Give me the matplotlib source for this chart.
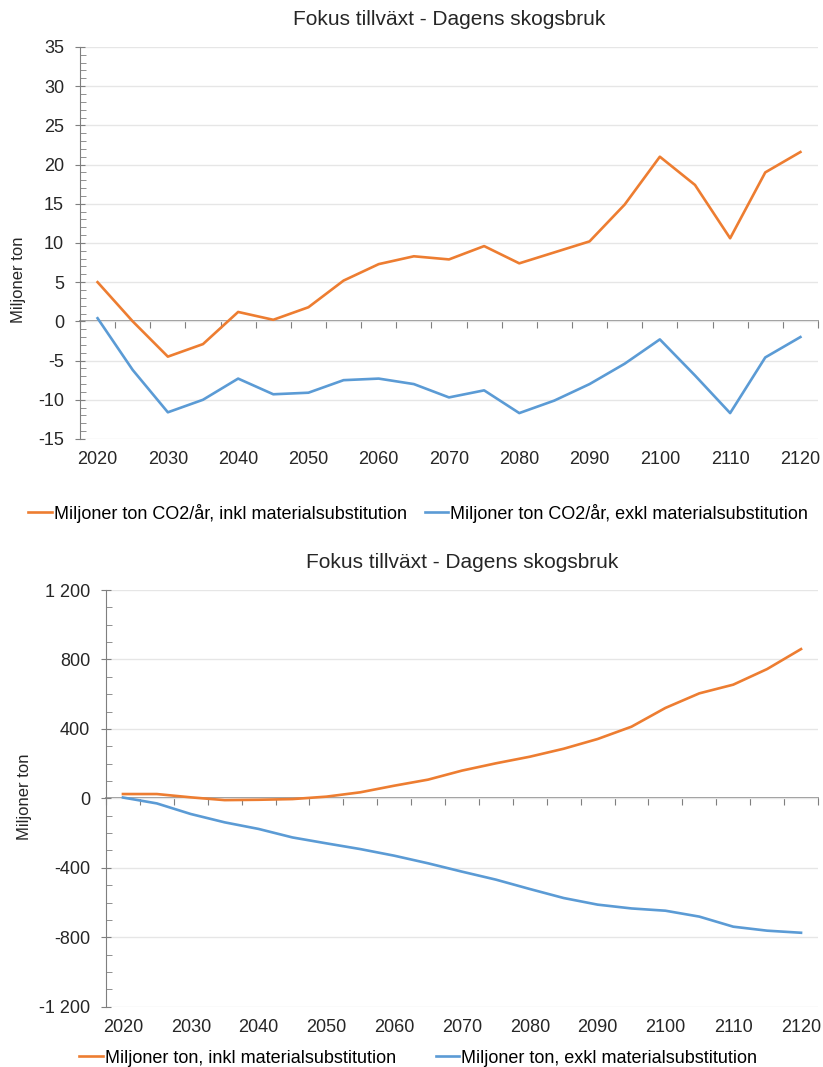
import numpy as np
import matplotlib.pyplot as plt
from matplotlib.ticker import FixedLocator, MultipleLocator, FuncFormatter, NullFormatter

plt.rcParams['font.family'] = ['Liberation Sans', 'DejaVu Sans']
plt.rcParams['axes.unicode_minus'] = False

# data - arlig (5-arssteg)
years = list(range(2020, 2121, 5))
co2_inkl = [5.0, 0.0, -4.5, -2.9, 1.2, 0.2, 1.8, 5.2, 7.3, 8.3, 7.9, 9.6, 7.4,
            8.8, 10.2, 14.9, 21.0, 17.4, 10.6, 19.0, 21.6]
co2_exkl = [0.4, -6.2, -11.6, -10.0, -7.3, -9.3, -9.1, -7.5, -7.3, -8.0, -9.7,
            -8.8, -11.7, -10.1, -8.0, -5.4, -2.3, -6.9, -11.7, -4.6, -2.0]

# ackumulerat
ack_inkl = [25, 25, 6, -10, -8, -4, 10, 35, 73, 108, 160, 202, 240, 286, 342,
            413, 521, 605, 655, 745, 860]
ack_exkl = [5, -29, -90, -138, -176, -225, -259, -292, -330, -374, -422, -468,
            -522, -574, -612, -634, -647, -681, -739, -762, -774]

titel = 'Fokus tillväxt - Dagens skogsbruk'
orange = '#ED7D31'
blue = '#5B9BD5'
axcol = '#7f7f7f'

fig = plt.figure(figsize=(8.23, 10.67), dpi=100)
ax1 = fig.add_axes([0.0972, 0.5886, 0.8967, 0.3674])
ax2 = fig.add_axes([0.1288, 0.0565, 0.8651, 0.3905])


def style_axis(ax, ymin, ymax, major, minor, fmt=None):
    n = len(years)
    x = np.arange(n)
    ax.set_xlim(-0.5, n - 0.5)
    ax.set_ylim(ymin, ymax)
    for s in ['top', 'right', 'bottom']:
        ax.spines[s].set_visible(False)
    ax.spines['left'].set_color(axcol)
    ax.yaxis.set_major_locator(MultipleLocator(major))
    ax.yaxis.set_minor_locator(MultipleLocator(minor))
    if fmt:
        ax.yaxis.set_major_formatter(FuncFormatter(fmt))
    ax.tick_params(axis='y', which='major', direction='inout', length=7,
                   color=axcol, labelsize=13, labelcolor='#262626', pad=8)
    ax.tick_params(axis='y', which='minor', direction='in', length=4, color=axcol)
    ax.grid(axis='y', which='major', color='#e6e6e6', linewidth=1)
    ax.set_axisbelow(True)
    # arslabels langst ned
    ax.set_xticks(x[::2])
    ax.set_xticklabels([str(y) for y in years[::2]])
    ax.tick_params(axis='x', length=0, labelsize=13, labelcolor='#262626', pad=9)
    # x-axel vid noll
    loc = (0 - ymin) / (ymax - ymin)
    sec = ax.secondary_xaxis(loc)
    sec.set_alignment('bottom')
    sec.spines['bottom'].set_color(axcol)
    sec.spines['bottom'].set_linewidth(1.2)
    sec.xaxis.set_major_locator(FixedLocator(np.arange(-0.5, n, 1.0)))
    sec.xaxis.set_major_formatter(NullFormatter())
    sec.tick_params(axis='x', direction='out', length=5, color=axcol,
                    labelbottom=False, labeltop=False)
    return x


x = style_axis(ax1, -15, 35, 5, 1)
ax1.plot(x, co2_inkl, color=orange, lw=1.9, solid_joinstyle='round',
         label='Miljoner ton CO2/år, inkl materialsubstitution')
ax1.plot(x, co2_exkl, color=blue, lw=1.9, solid_joinstyle='round',
         label='Miljoner ton CO2/år, exkl materialsubstitution')
ax1.set_title(titel, fontsize=15, color='#262626', pad=16)
fig.text(0.022, 0.738, 'Miljoner ton', rotation=90, fontsize=12,
         ha='center', va='center', color='#262626')
fig.legend(*ax1.get_legend_handles_labels(), loc='center', ncol=2,
           bbox_to_anchor=(0.508, 0.519), frameon=False, fontsize=13,
           handlelength=1.3, handletextpad=0.1, columnspacing=1.0)


def tusen(v, pos):
    s = f'{abs(int(v)):,}'.replace(',', ' ')
    return ('-' if v < 0 else '') + s


x = style_axis(ax2, -1200, 1200, 400, 100, tusen)
ax2.plot(x, ack_inkl, color=orange, lw=1.9, solid_joinstyle='round',
         label='Miljoner ton, inkl materialsubstitution')
ax2.plot(x, ack_exkl, color=blue, lw=1.9, solid_joinstyle='round',
         label='Miljoner ton, exkl materialsubstitution')
ax2.set_title(titel, fontsize=15, color='#262626', pad=16)
fig.text(0.030, 0.253, 'Miljoner ton', rotation=90, fontsize=12,
         ha='center', va='center', color='#262626')
fig.legend(*ax2.get_legend_handles_labels(), loc='center', ncol=2,
           bbox_to_anchor=(0.508, 0.0084), frameon=False, fontsize=13,
           handlelength=1.3, handletextpad=0.1, columnspacing=2.2)

fig.savefig('out.png', dpi=100)
